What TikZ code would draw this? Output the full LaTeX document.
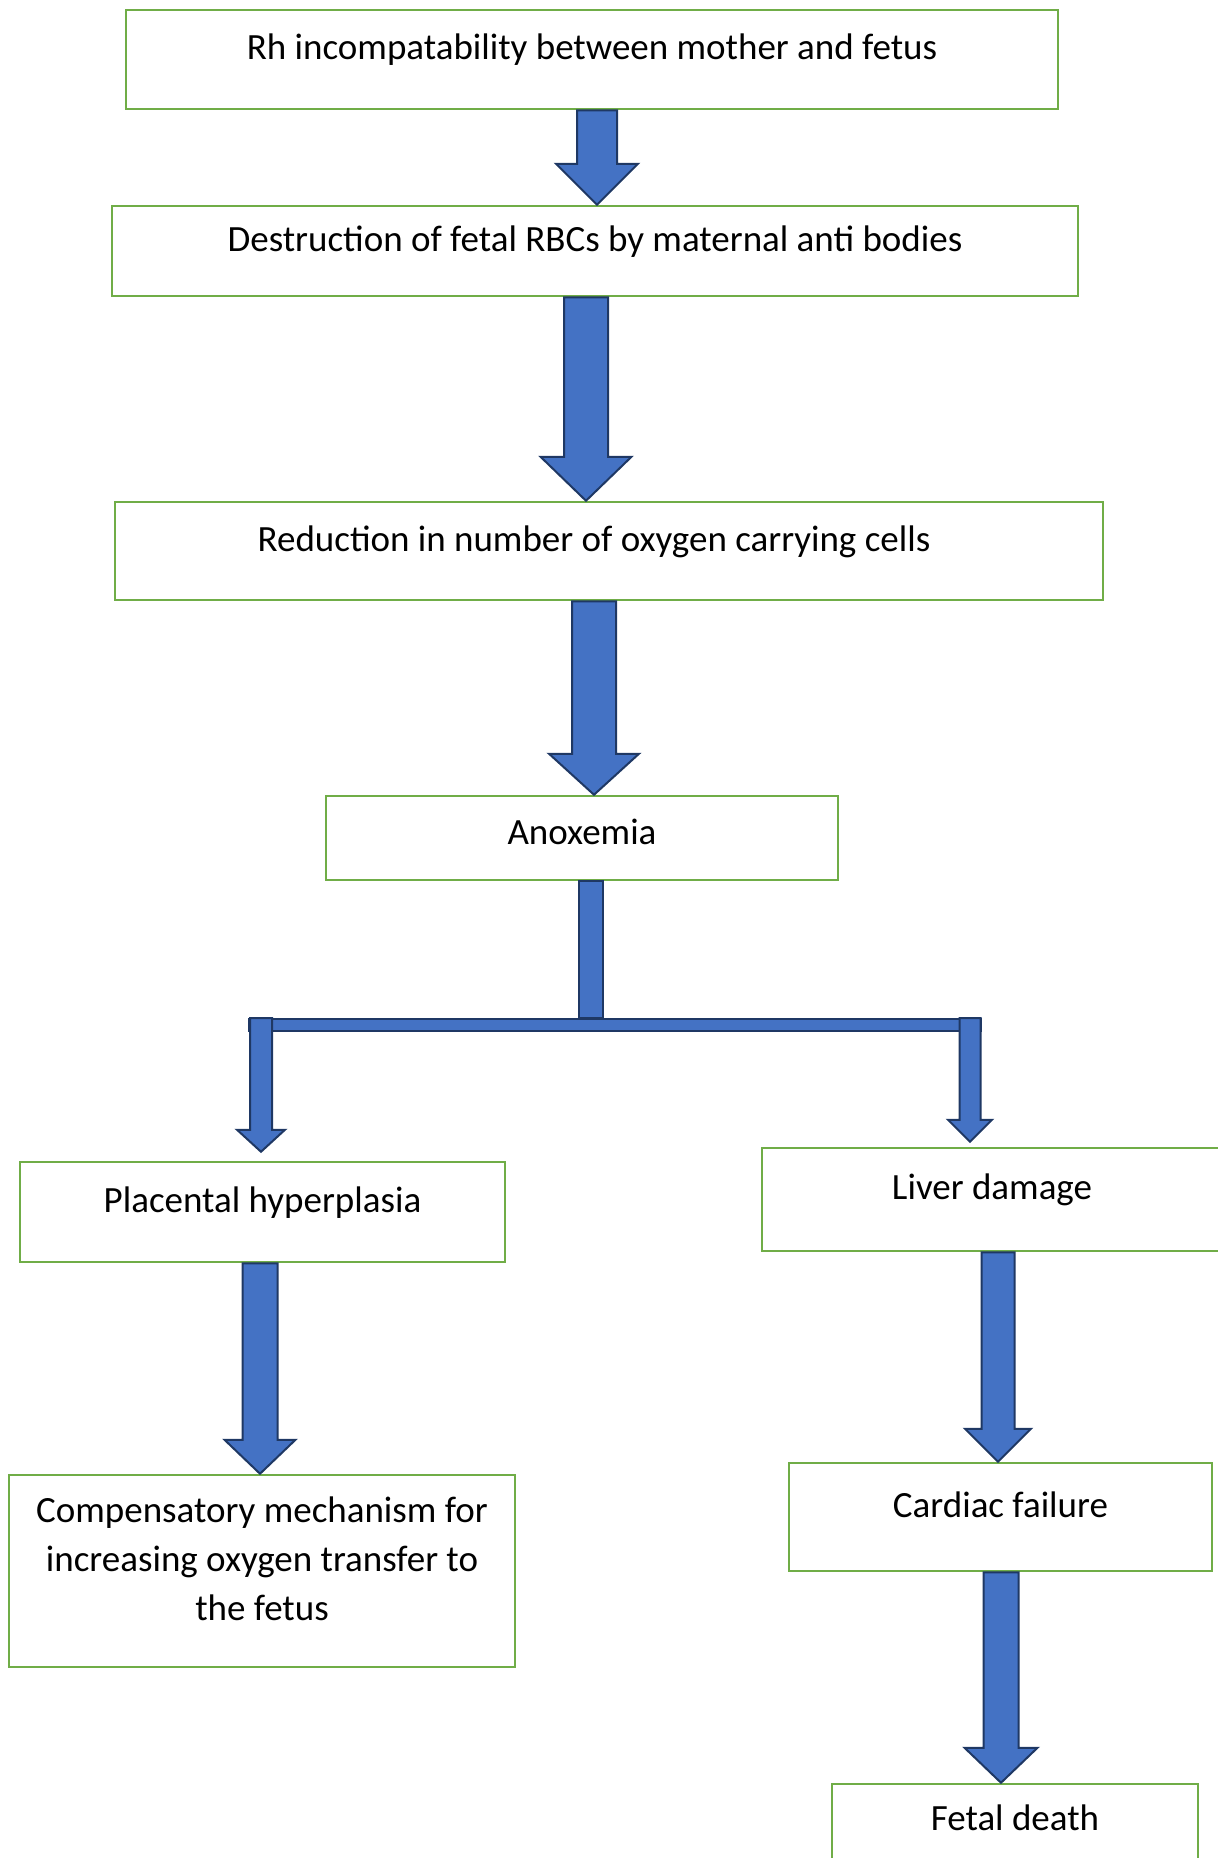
\documentclass[tikz,border=0pt]{standalone}
\usepackage{fontspec}
\setmainfont{Carlito}
\usepackage{xcolor}
\usepackage{tikz}
\usetikzlibrary{calc}
\definecolor{boxgreen}{HTML}{70AD47}
\definecolor{arrowblue}{HTML}{4472C4}
\definecolor{arrowedge}{HTML}{1F3864}
\tikzstyle{stage} = [rectangle, draw=boxgreen, line width=2.5pt, inner sep=0pt, align=center, font=\fontsize{37}{49}\selectfont]
\tikzstyle{oneline} = [stage, text height=22pt, text depth=22pt]
\tikzstyle{fat} = [fill=arrowblue, draw=arrowedge, line width=2pt, line join=miter]
% block arrow: x, from, to, shaft half width, head half width, head length
\newcommand{\fatarrow}[6]{%
	\filldraw[fat] let \p1 = (#2), \p2 = (#3) in
		(#1pt-#4pt, \y1) -- (#1pt+#4pt, \y1) -- (#1pt+#4pt, \y2+#6pt) -- (#1pt+#5pt, \y2+#6pt)
		-- (#1pt, \y2) -- (#1pt-#5pt, \y2+#6pt) -- (#1pt-#4pt, \y2+#6pt) -- cycle;}

\begin{document}
\begin{tikzpicture}[x=1pt, y=-1pt]
		\useasboundingbox (0,0) rectangle (1218,1858);
		\clip (0,0) rectangle (1218,1858);
		\node (Rh)[oneline, minimum width=932pt, minimum height=99pt] at (592,59.5) {Rh incompatability between mother and fetus};
		\node (Destruction)[oneline, minimum width=966pt, minimum height=90pt] at (595,251) {Destruction of fetal RBCs by maternal anti bodies};
		\node (Reduction)[oneline, minimum width=988pt, minimum height=98pt] at (609,551) {Reduction in number of oxygen carrying cells\rule{30pt}{0pt}};
		\node (Anoxemia)[oneline, text height=28pt, text depth=16pt, minimum width=512pt, minimum height=84pt] at (582,838) {Anoxemia};
		\node (Placental)[oneline, minimum width=485pt, minimum height=100pt] at (262.5,1212) {Placental hyperplasia};
		\node (Liver)[oneline, minimum width=460pt, minimum height=103pt] at (992,1199.5) {Liver damage};
		\node (Compensatory)[stage, minimum width=506pt, minimum height=192pt] at (262,1571) {\rule{0pt}{30pt}Compensatory mechanism for\\increasing oxygen transfer to\\the fetus\rule[-30pt]{0pt}{0pt}};
		\node (Cardiac)[oneline, minimum width=423pt, minimum height=108pt] at (1000.5,1517) {Cardiac failure};
		\node (Fetal Death)[oneline, minimum width=366pt, minimum height=92pt] at (1015,1830) {Fetal death};
		\fatarrow{597}{Rh.south}{Destruction.north}{20}{41}{41}
		\fatarrow{586}{Destruction.south}{Reduction.north}{22}{45.5}{44}
		\fatarrow{594}{Reduction.south}{Anoxemia.north}{22}{45}{41}
		% split below Anoxemia
		\node (bar)[fat, rectangle, inner sep=0pt, minimum width=732pt, minimum height=12pt] at (615,1025) {};
		\filldraw[fat] let \p1 = (Anoxemia.south), \p2 = (bar.north) in (579pt,\y1) rectangle (603pt,\y2);
		\node[fat, rectangle, inner sep=0pt, minimum width=732pt, minimum height=12pt] at (bar) {};
		\fatarrow{261}{bar.north}{$(Placental.north)+(0,-9)$}{11}{24}{22}
		\fatarrow{970}{bar.north}{$(Liver.north)+(0,-5)$}{10.5}{22}{22}
		\fatarrow{260}{Placental.south}{Compensatory.north}{17.5}{35.5}{34}
		\fatarrow{998}{Liver.south}{Cardiac.north}{16.5}{33}{33}
		\fatarrow{1001}{Cardiac.south}{Fetal Death.north}{17.5}{36.5}{35}
	\end{tikzpicture}
\end{document}
